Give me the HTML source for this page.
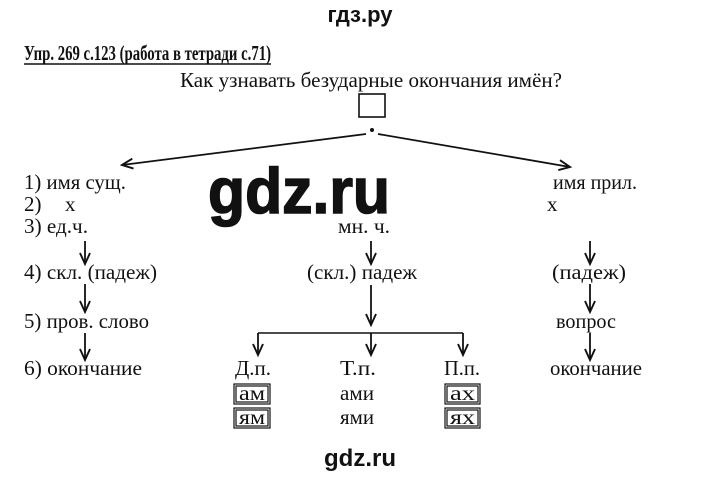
<!DOCTYPE html>
<html><head><meta charset="utf-8"><style>
html,body{margin:0;padding:0;background:#fff;width:720px;height:480px;overflow:hidden}
svg{display:block}
.s{font-family:"Liberation Serif","Noto Serif CJK SC",serif;font-size:21px;fill:#111}
.a{font-family:"Liberation Sans",sans-serif;font-weight:bold;fill:#111}
</style></head><body>
<svg width="720" height="480" viewBox="0 0 720 480" xmlns="http://www.w3.org/2000/svg">
<defs><marker id="ah" markerWidth="14" markerHeight="14" refX="12" refY="7" orient="auto" markerUnits="userSpaceOnUse"><path d="M1,2 L12,7 L1,12" fill="none" stroke="#111" stroke-width="1.9"/></marker></defs>
<text class="a" x="360" y="22" font-size="22" text-anchor="middle">гдз.ру</text>
<text class="s" x="24" y="60" font-size="23" font-weight="bold" textLength="247" lengthAdjust="spacingAndGlyphs">Упр. 269 с.123 (работа в тетради с.71)</text>
<line x1="24" y1="64" x2="271" y2="64" stroke="#111" stroke-width="1.5"/>
<text class="s" x="180" y="87" font-size="22" textLength="382" lengthAdjust="spacingAndGlyphs">Как узнавать безударные окончания имён?</text>
<rect x="359" y="94" width="26" height="23" fill="none" stroke="#111" stroke-width="1.6"/>
<circle cx="372" cy="130" r="2" fill="#111"/>
<g stroke="#111" stroke-width="1.8" fill="none" marker-end="url(#ah)">
<line x1="366" y1="134" x2="122" y2="165"/>
<line x1="378" y1="134" x2="570" y2="167"/>
<line x1="85" y1="241" x2="85" y2="264"/>
<line x1="85" y1="284" x2="85" y2="312"/>
<line x1="85" y1="333" x2="85" y2="360"/>
<line x1="371" y1="241" x2="371" y2="264"/>
<line x1="371" y1="285" x2="371" y2="325"/>
<line x1="590" y1="241" x2="590" y2="264"/>
<line x1="590" y1="284" x2="590" y2="312"/>
<line x1="590" y1="333" x2="590" y2="360"/>
<line x1="258" y1="333" x2="258" y2="355"/>
<line x1="371" y1="333" x2="371" y2="355"/>
<line x1="463" y1="333" x2="463" y2="355"/>
</g>
<polyline points="258,333 463,333" stroke="#111" stroke-width="1.6" fill="none"/>
<text class="a" x="208" y="213" font-size="64" textLength="182" lengthAdjust="spacingAndGlyphs" stroke="#111" stroke-width="1.5">gdz.ru</text>
<g class="s">
<text x="24" y="189" textLength="102" lengthAdjust="spacingAndGlyphs">1) имя сущ.</text>
<text x="24" y="211">2)</text><text x="65" y="211">х</text>
<text x="24" y="233" textLength="64" lengthAdjust="spacingAndGlyphs">3) ед.ч.</text>
<text x="24" y="279" textLength="133" lengthAdjust="spacingAndGlyphs">4) скл. (падеж)</text>
<text x="24" y="328" textLength="125" lengthAdjust="spacingAndGlyphs">5) пров. слово</text>
<text x="24" y="375" textLength="118" lengthAdjust="spacingAndGlyphs">6) окончание</text>
<text x="338" y="233" textLength="52" lengthAdjust="spacingAndGlyphs">мн. ч.</text>
<text x="307" y="279" textLength="110" lengthAdjust="spacingAndGlyphs">(скл.) падеж</text>
<text x="553" y="189" textLength="84" lengthAdjust="spacingAndGlyphs">имя прил.</text>
<text x="547" y="211">х</text>
<text x="552" y="279" textLength="74" lengthAdjust="spacingAndGlyphs">(падеж)</text>
<text x="556" y="328" textLength="60" lengthAdjust="spacingAndGlyphs">вопрос</text>
<text x="550" y="375" textLength="92" lengthAdjust="spacingAndGlyphs">окончание</text>
<text x="235" y="375" textLength="36" lengthAdjust="spacingAndGlyphs">Д.п.</text>
<text x="340" y="375" textLength="36" lengthAdjust="spacingAndGlyphs">Т.п.</text>
<text x="444" y="375" textLength="36" lengthAdjust="spacingAndGlyphs">П.п.</text>
<text x="340" y="400" textLength="34" lengthAdjust="spacingAndGlyphs">ами</text>
<text x="340" y="424" textLength="34" lengthAdjust="spacingAndGlyphs">ями</text>
</g>
<g class="s" font-size="19">
<text x="239" y="400" textLength="26" lengthAdjust="spacingAndGlyphs">ам</text>
<text x="450" y="400" textLength="25" lengthAdjust="spacingAndGlyphs">ах</text>
<text x="239" y="424" textLength="26" lengthAdjust="spacingAndGlyphs">ям</text>
<text x="450" y="424" textLength="25" lengthAdjust="spacingAndGlyphs">ях</text>
</g>
<g fill="none" stroke="#111" stroke-width="1.2">
<rect x="234" y="384" width="36" height="20"/><rect x="236" y="386" width="32" height="16"/>
<rect x="234" y="408" width="36" height="20"/><rect x="236" y="410" width="32" height="16"/>
<rect x="445" y="384" width="35" height="20"/><rect x="447" y="386" width="31" height="16"/>
<rect x="445" y="408" width="35" height="20"/><rect x="447" y="410" width="31" height="16"/>
</g>
<text class="a" x="360" y="466" font-size="24" text-anchor="middle">gdz.ru</text>
</svg>
</body></html>
